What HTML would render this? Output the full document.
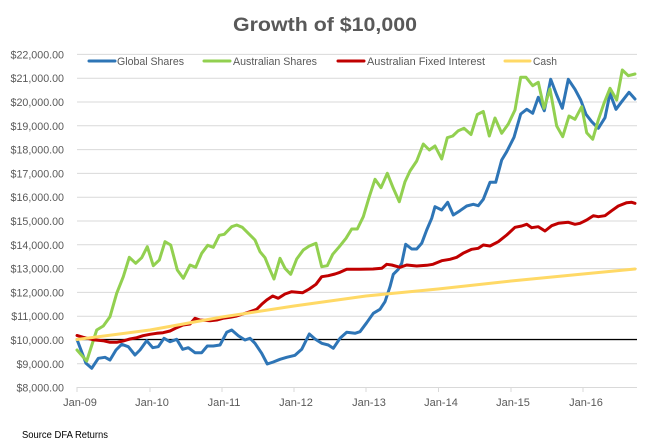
<!DOCTYPE html>
<html><head><meta charset="utf-8"><style>
html,body{margin:0;padding:0;background:#fff;}
svg{display:block;}
text{font-family:"Liberation Sans",sans-serif;}
</style></head><body>
<svg width="651" height="448" viewBox="0 0 651 448" xmlns="http://www.w3.org/2000/svg">
<rect width="651" height="448" fill="#fff"/>
<text x="325" y="31" text-anchor="middle" font-size="19.5" font-weight="bold" fill="#595959" textLength="184" lengthAdjust="spacingAndGlyphs">Growth of $10,000</text>
<!-- gridlines -->
<g stroke="#d9d9d9" stroke-width="1">
<line x1="77" y1="54.4" x2="637" y2="54.4"/>
<line x1="77" y1="78.2" x2="637" y2="78.2"/>
<line x1="77" y1="102" x2="637" y2="102"/>
<line x1="77" y1="125.8" x2="637" y2="125.8"/>
<line x1="77" y1="149.6" x2="637" y2="149.6"/>
<line x1="77" y1="173.4" x2="637" y2="173.4"/>
<line x1="77" y1="197.2" x2="637" y2="197.2"/>
<line x1="77" y1="221" x2="637" y2="221"/>
<line x1="77" y1="244.8" x2="637" y2="244.8"/>
<line x1="77" y1="268.6" x2="637" y2="268.6"/>
<line x1="77" y1="292.4" x2="637" y2="292.4"/>
<line x1="77" y1="316.2" x2="637" y2="316.2"/>
<line x1="77" y1="340" x2="637" y2="340"/>
<line x1="77" y1="363.8" x2="637" y2="363.8"/>
<line x1="77" y1="387.5" x2="637" y2="387.5"/>
<line x1="77" y1="387" x2="77" y2="392"/>
<line x1="150" y1="387" x2="150" y2="392"/>
<line x1="222" y1="387" x2="222" y2="392"/>
<line x1="294" y1="387" x2="294" y2="392"/>
<line x1="366" y1="387" x2="366" y2="392"/>
<line x1="438.5" y1="387" x2="438.5" y2="392"/>
<line x1="511" y1="387" x2="511" y2="392"/>
<line x1="583" y1="387" x2="583" y2="392"/>
</g>
<!-- y labels -->
<g font-size="10.7" fill="#595959" text-anchor="end">
<text x="64" y="58.4">$22,000.00</text>
<text x="64" y="82.2">$21,000.00</text>
<text x="64" y="106">$20,000.00</text>
<text x="64" y="129.8">$19,000.00</text>
<text x="64" y="153.6">$18,000.00</text>
<text x="64" y="177.4">$17,000.00</text>
<text x="64" y="201.2">$16,000.00</text>
<text x="64" y="225">$15,000.00</text>
<text x="64" y="248.8">$14,000.00</text>
<text x="64" y="272.6">$13,000.00</text>
<text x="64" y="296.4">$12,000.00</text>
<text x="64" y="320.2">$11,000.00</text>
<text x="64" y="344">$10,000.00</text>
<text x="64" y="367.8">$9,000.00</text>
<text x="64" y="391.5">$8,000.00</text>
</g>
<!-- x labels -->
<g font-size="11" fill="#595959" text-anchor="middle">
<text x="80" y="406">Jan-09</text>
<text x="152" y="406">Jan-10</text>
<text x="224" y="406">Jan-11</text>
<text x="296" y="406">Jan-12</text>
<text x="369" y="406">Jan-13</text>
<text x="441" y="406">Jan-14</text>
<text x="513" y="406">Jan-15</text>
<text x="586" y="406">Jan-16</text>
</g>
<text x="22" y="438" font-size="10" fill="#000" textLength="86" lengthAdjust="spacingAndGlyphs">Source DFA Returns</text>
<!-- baseline -->
<line x1="77" y1="339.5" x2="637" y2="339.5" stroke="#000" stroke-width="1.2"/>
<g fill="none" stroke-width="3" stroke-linejoin="round" stroke-linecap="round">
<polyline stroke="#2E75B6" points="77,339.5 86,363.3 91.7,368.3 98.3,358.3 105,357.3 110,360 116,350 121.7,344.3 128.3,346.7 135,355 140,350 146.7,340.7 152.7,347.7 158.3,346.7 164,338.3 170,341.7 176.7,339.3 182.7,349.3 188.3,347.7 195,352.7 201.7,352.7 207.3,346 213.3,346 220,345 226.7,332.3 231.7,330 238.3,335.7 245,340 250,338.3 255,343.3 261.7,353.3 267.3,364 273.3,362 280,359.3 286.7,357.3 295,355.3 301.7,349.3 309.3,334 315,339 321.7,343.3 328.3,345 333.3,348.3 340,338.3 346.7,332.3 355,333.3 360,331.7 366.7,322.7 373.3,313.3 380,309.3 385,301.7 390,286.7 393.3,274.3 398.3,269.3 401.7,263.3 405.7,244.3 411.7,249 416.7,249 421.7,243.3 426.7,230 431.7,218.3 435,206.7 441.7,210 447.7,202.3 453.3,215 460,210.7 466.7,206 473.3,204.3 478.3,205.7 483.3,199.3 490,182.3 495.7,182.3 501.7,160 506.7,151.7 514,137.3 520.7,114 526.7,109.3 532.7,113.3 538.3,97.3 544.3,110.7 550.7,79.3 556.7,95 562.3,108.3 568.3,79.3 575,89.3 580.7,100 586,114.3 591.7,121.7 598.3,128.3 605,117.7 610,93.3 616,109.3 621.7,101.7 629,92.3 635,99"/>
<polyline stroke="#92D050" points="77,350 86.7,361 96.7,330 103.3,326 110,316.7 116.7,293.3 123.3,276.7 129.3,257.3 135.7,263.3 141.7,257.7 147.3,246.7 153.3,265.7 159.3,260 165,241.7 170.7,245 177.3,270 183.3,278.3 190,265 195.7,267.3 201.7,253.3 207.7,245.3 213.3,247.3 219.3,235.3 224.3,234.3 231.7,226.7 236.7,225 242.3,227.3 248.3,233.3 255,240 260,251.7 265,257.7 269.3,268.3 274,279 280,258.3 285,268.3 290.7,274.3 296.7,259 303.3,250 309.3,246 316,243.3 321.7,266.7 327.3,265.7 332.7,254.3 339.3,246.7 346,238.3 351.7,229 357.3,229 363.3,216.7 369.3,196.7 375,179.3 381,187.7 387.3,173.3 393.3,188.3 399.3,201.7 405,181.7 410,171 416.7,161 423.3,144 429.3,150 435,146 441.7,159 447.3,137.7 452.7,136 458.3,130.7 464,128.3 471,134.5 477.3,114.5 483.3,111.5 489.3,136 495,118 501.7,133.3 508.3,124 515,110 520.7,77.3 526,77.3 532.7,85.7 538.3,82.3 544,108.3 550,89 556.7,126 562.7,136.7 569,116 575,119.3 581.7,106.7 586.7,132.7 592.7,139.3 598.3,120 604,103.3 610,88.3 616.7,100 622.3,70 628.3,75.7 635,74"/>
<polyline stroke="#C00000" points="77,335.5 83.3,337.3 93,339.7 103,340.7 110,342.3 116.7,342.3 123,341 130,339 136.7,337.7 143,335.7 150,334.3 156.7,333.3 163,332.7 170,331 176.7,327.7 183,325 190,324 195,318.3 200,320 210,320.7 216.7,320 223,318.3 230,317.3 236.7,316 243,314 250,311.7 256.7,309.3 261.7,304.3 266.7,300 272.7,296 278.3,298.3 285,294 291.7,291.7 302.7,292.7 309.3,289 316,284.3 321.7,276.7 328.3,275.7 335,274 340,272.3 346.7,269.3 360,269.3 373,269 381.7,268.3 386.7,264.3 391.7,265 400,267.3 406.7,265 416.7,266 426.7,265.3 433,264.3 441.7,260.7 450,259.3 456.7,257.3 463,253.3 471.7,249.3 478.3,248.3 483.3,245 490,246 498.3,241.7 506.7,235 515,227.3 521.7,226 526.7,224.3 531.7,227.7 538.3,226.7 545,231 551.7,225.7 558.3,223.3 568.3,222.3 575,224.3 580,223.3 586.7,220 593.3,215.7 598.3,216.7 605,215.7 611.7,210.7 618.3,206 626.7,202.7 631.7,202.3 635,203.3"/>
<polyline stroke="#FFD966" points="77,339.5 150,330 222,317 294,306 366,296 438,289 511,281 583,274 635,269"/>
</g>
<!-- legend -->
<g stroke-width="3" stroke-linecap="round">
<line x1="89" y1="61" x2="115" y2="61" stroke="#2E75B6"/>
<line x1="204" y1="61" x2="230" y2="61" stroke="#92D050"/>
<line x1="338" y1="61" x2="364" y2="61" stroke="#C00000"/>
<line x1="505" y1="61" x2="530" y2="61" stroke="#FFD966"/>
</g>
<g font-size="10.7" fill="#595959">
<text x="117" y="65" textLength="67" lengthAdjust="spacingAndGlyphs">Global Shares</text>
<text x="233" y="65" textLength="84" lengthAdjust="spacingAndGlyphs">Australian Shares</text>
<text x="367" y="65" textLength="118" lengthAdjust="spacingAndGlyphs">Australian Fixed Interest</text>
<text x="533" y="65" textLength="24" lengthAdjust="spacingAndGlyphs">Cash</text>
</g>
</svg>
</body></html>
